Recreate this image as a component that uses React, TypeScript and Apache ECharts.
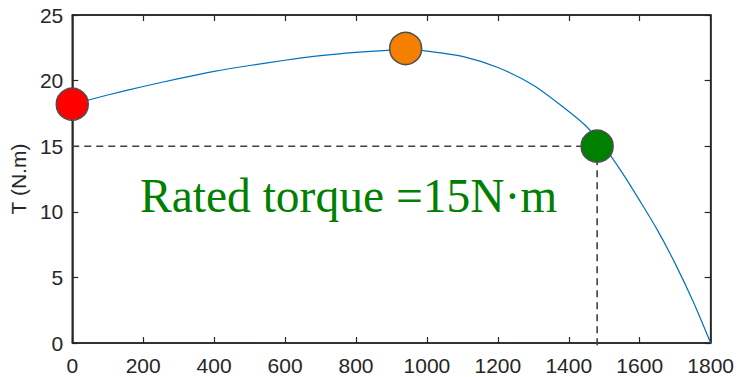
import React, { useEffect, useRef } from "react";
import * as echarts from "echarts";

const speed = [0, 100, 200, 300, 400, 500, 600, 700, 800, 900, 950, 1000, 1100, 1200, 1300, 1400, 1450, 1500, 1550, 1600, 1650, 1700, 1750, 1800];
const torque = [18.2, 18.9, 19.55, 20.15, 20.7, 21.15, 21.55, 21.9, 22.15, 22.33, 22.36, 22.25, 21.85, 21.0, 19.65, 17.65, 16.5, 14.95, 13.0, 10.85, 8.6, 6.05, 3.2, 0];

const startPoint = [0, 18.2];
const maxPoint = [940, 22.45];
const ratedPoint = [1480, 15];
const ratedTorque = 15;
const ratedSpeed = 1480;

const xTicks = { min: 0, max: 1800, interval: 200 };
const yTicks = { min: 0, max: 25, interval: 5 };

const yName = "T (N.m)";
const annotation = "Rated torque =15N\u00b7m";

export default function App() {
  const ref = useRef<HTMLDivElement>(null);
  useEffect(() => {
    document.body.style.margin = "0";
    const chart = echarts.init(ref.current!, undefined, { renderer: "svg" });
    const ax = "#262626";
    const font = "'Liberation Sans', Arial, sans-serif";
    const marker = (color: string) => ({ color, opacity: 1, borderColor: "#4d4d4d", borderWidth: 1.5 });
    const line = { show: true, onZero: false, lineStyle: { color: ax, width: 1.5 } };
    const tick = { show: true, inside: true, length: 6, lineStyle: { color: ax, width: 1.2 } };
    const frame = [
      [xTicks.min, yTicks.min],
      [xTicks.max, yTicks.min],
      [xTicks.max, yTicks.max],
      [xTicks.min, yTicks.max],
      [xTicks.min, yTicks.min],
    ];
    chart.setOption({
      animation: false,
      grid: { left: 72, right: 25, top: 15, bottom: 34 },
      xAxis: [
        {
          type: "value", min: xTicks.min, max: xTicks.max, interval: xTicks.interval, position: "bottom",
          splitLine: { show: false }, axisLine: line, axisTick: tick,
          axisLabel: { fontFamily: font, fontSize: 21, color: ax, margin: 12, showMinLabel: true, showMaxLabel: true, formatter: (v: number) => String(v) },
        },
        {
          type: "value", min: xTicks.min, max: xTicks.max, interval: xTicks.interval, position: "top",
          splitLine: { show: false }, axisLine: line, axisTick: tick, axisLabel: { show: false },
        },
      ],
      yAxis: [
        {
          type: "value", min: yTicks.min, max: yTicks.max, interval: yTicks.interval, position: "left",
          splitLine: { show: false }, axisLine: line, axisTick: tick,
          axisLabel: { fontFamily: font, fontSize: 21, color: ax, margin: 9, formatter: (v: number) => String(v) },
          name: yName,
          nameLocation: "middle",
          nameRotate: 90,
          nameGap: 40,
          nameTextStyle: { fontFamily: font, fontSize: 21, color: ax },
        },
        {
          type: "value", min: yTicks.min, max: yTicks.max, interval: yTicks.interval, position: "right",
          splitLine: { show: false }, axisLine: line, axisTick: tick, axisLabel: { show: false },
        },
      ],
      series: [
        {
          type: "line",
          data: frame,
          showSymbol: false,
          clip: false,
          silent: true,
          lineStyle: { color: ax, width: 1.5 },
          z: 1,
        },
        {
          type: "line",
          data: speed.map((s, i) => [s, torque[i]]),
          smooth: 0.3,
          showSymbol: false,
          lineStyle: { color: "#0072BD", width: 1.2 },
          z: 3,
        },
        {
          type: "line",
          data: [[0, ratedTorque], ratedPoint],
          showSymbol: false,
          lineStyle: { color: "#404040", width: 1.6, type: [7, 5] },
          z: 2,
        },
        {
          type: "line",
          data: [ratedPoint, [ratedSpeed, -0.5]],
          showSymbol: false,
          clip: false,
          lineStyle: { color: "#404040", width: 1.6, type: [7, 5] },
          z: 2,
        },
        { type: "scatter", data: [startPoint], symbolSize: 32, clip: false, itemStyle: marker("#ff0000"), z: 6 },
        { type: "scatter", data: [maxPoint], symbolSize: 32, clip: false, itemStyle: marker("#f58000"), z: 6 },
        { type: "scatter", data: [ratedPoint], symbolSize: 32, clip: false, itemStyle: marker("#008000"), z: 6 },
      ],
      graphic: [
        {
          type: "text",
          x: 140,
          y: 196,
          z: 10,
          style: {
            text: annotation,
            font: "47.5px 'Liberation Serif', 'Times New Roman', serif",
            fill: "#008000",
            align: "left",
            verticalAlign: "middle",
          },
        },
      ],
    });
    return () => chart.dispose();
  }, []);
  return <div ref={ref} style={{ position: "absolute", left: 0, top: 0, width: 737, height: 377 }} />;
}
